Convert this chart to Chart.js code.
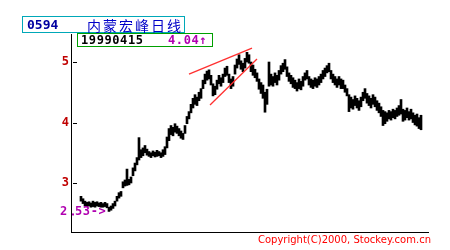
<!DOCTYPE html>
<html>
<head>
<meta charset="utf-8">
<script src="https://cdn.jsdelivr.net/npm/chart.js@4/dist/chart.umd.min.js"></script>
<style>
  body { margin: 0; background: #fff; }
  #wrap { position: relative; width: 450px; height: 250px; overflow: hidden; }
  .box { position: absolute; box-sizing: border-box; border: 1px solid; white-space: nowrap; background: #fff; }
  .box span { position: absolute; }
  .mono { font-family: "DejaVu Sans Mono", monospace; font-weight: bold; }
</style>
</head>
<body>
<div id="wrap">
  <canvas id="chart" width="450" height="250"></canvas>
  <div class="box" style="left:22px; top:16px; width:163px; height:17px; border-color:#00a8b8;">
    <span class="mono" style="left:4px; top:0px; font-size:13px; color:#0000a0;">0594</span>
    <span style="left:64px; top:-2px; font-family:'Noto Sans CJK SC'; font-size:14px; letter-spacing:2px; color:#0000c8;">内蒙宏峰日线</span>
  </div>
  <div class="box" style="left:77px; top:33px; width:136px; height:14px; border-color:#00a000;">
    <span class="mono" style="left:3px; top:-1px; font-size:12px; letter-spacing:0.6px; color:#000;">19990415</span>
    <span class="mono" style="left:90px; top:-1px; font-size:12px; letter-spacing:0.6px; color:#b000b0;">4.04↑</span>
  </div>
  <div style="position:absolute; left:258px; top:234px; font-family:'DejaVu Sans'; font-size:10px; color:#ff0000; white-space:nowrap;">Copyright(C)2000, Stockey.com.cn</div>
</div>
<script>
// daily high / low, one entry per trading day
const highs = [
  2.78,2.74,2.70,2.68,2.69,2.67,2.70,2.68,2.69,2.67,
  2.68,2.66,2.68,2.66,2.60,2.62,2.66,2.70,2.78,2.84,
  2.86,3.02,3.05,3.23,3.06,3.10,3.25,3.33,3.42,3.75,
  3.55,3.58,3.62,3.56,3.52,3.50,3.53,3.51,3.54,3.52,
  3.50,3.55,3.60,3.76,3.90,3.95,3.92,3.98,3.94,3.90,
  3.86,3.82,3.95,4.10,4.18,4.30,4.40,4.46,4.42,4.50,
  4.56,4.70,4.80,4.85,4.87,4.78,4.64,4.60,4.70,4.78,
  4.74,4.80,4.90,4.93,4.80,4.72,4.76,4.95,5.05,5.12,
  5.02,4.98,5.06,5.16,5.12,5.00,4.95,4.88,4.82,4.72,
  4.66,4.62,4.50,4.55,5.00,4.80,4.76,4.82,4.78,4.86,
  4.94,4.98,5.04,4.92,4.82,4.78,4.74,4.70,4.66,4.72,
  4.68,4.76,4.82,4.86,4.76,4.72,4.70,4.74,4.72,4.76,
  4.80,4.86,4.90,4.94,4.98,4.86,4.80,4.76,4.72,4.76,
  4.72,4.70,4.62,4.56,4.46,4.42,4.38,4.44,4.40,4.36,
  4.42,4.50,4.56,4.48,4.44,4.40,4.46,4.42,4.36,4.32,
  4.26,4.20,4.18,4.16,4.20,4.18,4.22,4.20,4.24,4.28,
  4.38,4.22,4.20,4.24,4.18,4.22,4.16,4.12,4.14,4.08,4.12
];
const lows = [
  2.70,2.66,2.62,2.61,2.62,2.60,2.61,2.60,2.62,2.61,
  2.60,2.60,2.61,2.59,2.53,2.55,2.58,2.62,2.70,2.75,
  2.78,2.92,2.95,2.96,2.97,3.00,3.12,3.20,3.30,3.38,
  3.42,3.45,3.50,3.46,3.44,3.42,3.45,3.43,3.44,3.45,
  3.42,3.44,3.47,3.58,3.70,3.80,3.78,3.84,3.82,3.78,
  3.74,3.72,3.82,3.98,4.06,4.16,4.24,4.30,4.28,4.36,
  4.40,4.56,4.64,4.70,4.72,4.62,4.44,4.46,4.55,4.64,
  4.60,4.66,4.76,4.78,4.66,4.56,4.60,4.80,4.90,4.96,
  4.88,4.84,4.90,5.00,4.98,4.84,4.78,4.74,4.68,4.55,
  4.48,4.40,4.17,4.30,4.60,4.62,4.60,4.66,4.62,4.70,
  4.80,4.84,4.88,4.76,4.68,4.64,4.58,4.56,4.52,4.56,
  4.54,4.60,4.70,4.72,4.62,4.58,4.56,4.60,4.58,4.62,
  4.66,4.72,4.76,4.82,4.84,4.72,4.66,4.62,4.58,4.62,
  4.56,4.56,4.50,4.44,4.18,4.24,4.22,4.28,4.24,4.20,
  4.26,4.36,4.40,4.32,4.28,4.24,4.30,4.26,4.20,4.16,
  4.10,3.95,3.98,4.02,4.06,4.04,4.08,4.06,4.10,4.12,
  4.14,4.02,4.04,4.08,4.04,4.06,4.00,3.96,3.94,3.90,3.88
];

// trend lines (day index, price)
const trendUpperX = [54, 85.5];
const trendUpperY = [4.80, 5.23];
const trendLowerX = [64.5, 88];
const trendLowerY = [4.29, 5.05];

const yTicks = [3, 4, 5];
const lowMark = 2.53;

const bars = highs.map((h, i) => ({ x: i, y: [lows[i], h] }));
const toPts = (xs, ys) => xs.map((x, i) => ({ x: x, y: ys[i] }));

const extras = {
  id: 'extras',
  afterDraw(chart) {
    const { ctx, chartArea, scales: { y } } = chart;
    ctx.save();
    ctx.strokeStyle = '#000';
    ctx.lineWidth = 1;
    yTicks.forEach(v => {
      const py = Math.round(y.getPixelForValue(v)) + 0.5;
      ctx.beginPath();
      ctx.moveTo(chartArea.left + 2, py);
      ctx.lineTo(chartArea.left + 6, py);
      ctx.stroke();
    });
    // lowest price marker
    ctx.fillStyle = '#b000b0';
    ctx.font = 'bold 12px "DejaVu Sans Mono"';
    ctx.textBaseline = 'middle';
    const py = y.getPixelForValue(lowMark);
    ctx.fillText('2', 60, py);
    ctx.fillRect(chartArea.left + 1, py + 2, 2, 2);
    ctx.letterSpacing = '0.6px';
    ctx.fillText(lowMark.toFixed(2).slice(2) + '->', 75, py);
    ctx.restore();
  }
};

new Chart(document.getElementById('chart'), {
  type: 'bar',
  data: {
    datasets: [
      { type: 'line', data: toPts(trendUpperX, trendUpperY), borderColor: '#ff3030', borderWidth: 1.3, pointRadius: 0 },
      { type: 'line', data: toPts(trendLowerX, trendLowerY), borderColor: '#ff3030', borderWidth: 1.3, pointRadius: 0 },
      { data: bars, backgroundColor: '#000', barThickness: 2, borderWidth: 0 }
    ]
  },
  options: {
    responsive: false,
    animation: false,
    devicePixelRatio: 1,
    layout: { padding: { left: 0, top: 34, right: 22, bottom: 18 } },
    plugins: { legend: { display: false }, tooltip: { enabled: false } },
    scales: {
      x: {
        type: 'linear', min: -5, max: 173.5, offset: false,
        ticks: { display: false },
        grid: { display: false, drawTicks: false, offset: false },
        border: { display: true, color: '#000', width: 1 },
        afterFit: s => { s.height = 0; }
      },
      y: {
        min: 2.19, max: 5.463,
        grid: { display: false, drawTicks: false },
        border: { display: true, color: '#000', width: 1 },
        ticks: { color: '#c00000', padding: 2, font: { family: 'DejaVu Sans Mono', weight: 'bold', size: 12 } },
        afterBuildTicks: s => { s.ticks = yTicks.map(v => ({ value: v })); },
        afterFit: s => { s.width = 71; }
      }
    }
  },
  plugins: [extras]
});
</script>
</body>
</html>
